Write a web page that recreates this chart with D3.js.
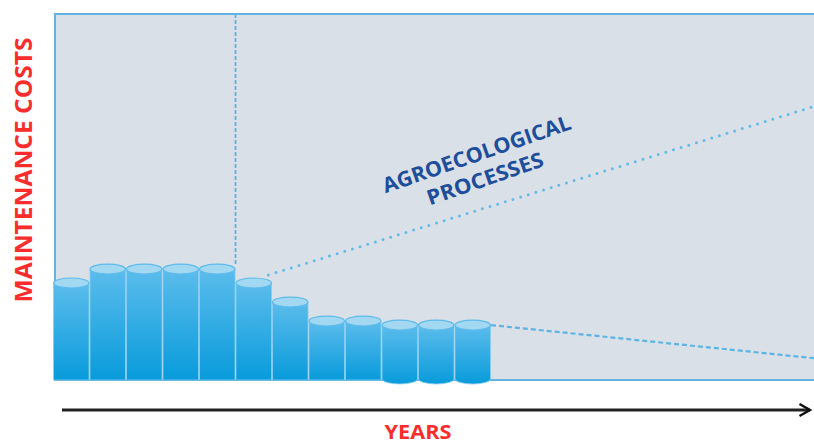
<!DOCTYPE html>
<html>
<head>
<meta charset="utf-8">
<script src="https://cdn.jsdelivr.net/npm/d3@7"></script>
<style>
  body { margin: 0; background: #fff; }
  svg { display: block; }
  text { font-family: "Open Sans", "DejaVu Sans", sans-serif; font-weight: 700; }
</style>
</head>
<body>
<div id="chart"></div>
<script>
/* Data */
let years = [1, 2, 3, 4, 5, 6, 7, 8, 9, 10, 11, 12];
let costs = [26.5, 30.3, 30.3, 30.3, 30.3, 26.5, 21.3, 16.1, 16.1, 15, 15, 15];
let transitionYear = 5;
let agroTrend = [{ year: 5.9, cost: 28.7 }, { year: 21, cost: 75.2 }];
let convTrend = [{ year: 12, cost: 15 }, { year: 21, cost: 5.8 }];
let yLabel = "MAINTENANCE COSTS";
let xLabel = "YEARS";
let noteLines = ["AGROECOLOGICAL", "PROCESSES"];

let width = 814;
let height = 444;
let plot = { left: 55, top: 14, right: 830, bottom: 380 };

/* Scale */
let xScale = d3.scaleLinear().domain([0, 1]).range([53, 89.5]);
let yScale = d3.scaleLinear().domain([0, 100]).range([plot.bottom, plot.top]);

let svg = d3
  .select("#chart")
  .append("svg")
  .attr("width", width)
  .attr("height", height);

let defs = svg.append("defs");
let grad = defs
  .append("linearGradient")
  .attr("id", "cyl")
  .attr("x1", 0).attr("y1", 0).attr("x2", 0).attr("y2", 1);
grad.append("stop").attr("offset", "0%").attr("stop-color", "#5cbcec");
grad.append("stop").attr("offset", "100%").attr("stop-color", "#089bdb");

defs
  .append("marker")
  .attr("id", "arrow")
  .attr("viewBox", "0 0 10 10")
  .attr("refX", 8)
  .attr("refY", 5)
  .attr("markerWidth", 5)
  .attr("markerHeight", 5)
  .attr("markerUnits", "strokeWidth")
  .attr("orient", "auto")
  .append("path")
  .attr("d", "M1,1 L8,5 L1,9")
  .attr("fill", "none")
  .attr("stroke", "#111")
  .attr("stroke-width", 1.6);

/* Panel */
svg
  .append("rect")
  .attr("x", plot.left)
  .attr("y", plot.top)
  .attr("width", plot.right - plot.left)
  .attr("height", plot.bottom - plot.top)
  .attr("fill", "#d9e0e7")
  .attr("stroke", "#62b3e2")
  .attr("stroke-width", 2);

/* Transition marker */
svg
  .append("line")
  .attr("x1", xScale(transitionYear))
  .attr("x2", xScale(transitionYear))
  .attr("y1", plot.top)
  .attr("y2", yScale(costs[transitionYear - 1]) - 4)
  .attr("stroke", "#5db4e4")
  .attr("stroke-width", 1.8)
  .attr("stroke-dasharray", "4,2");

/* Trend lines */
let line = d3
  .line()
  .x(d => xScale(d.year))
  .y(d => yScale(d.cost));

svg
  .append("path")
  .attr("d", line(agroTrend))
  .attr("fill", "none")
  .attr("stroke", "#66bae8")
  .attr("stroke-width", 3)
  .attr("stroke-linecap", "round")
  .attr("stroke-dasharray", "0,8");

svg
  .append("path")
  .attr("d", line(convTrend))
  .attr("fill", "none")
  .attr("stroke", "#5db4e4")
  .attr("stroke-width", 2.2)
  .attr("stroke-dasharray", "5,3");

/* Cylinders */
let ry = 5;
let cyl = svg
  .append("g")
  .selectAll("g")
  .data(years.map((y, i) => ({ year: y, cost: costs[i] })))
  .enter()
  .append("g");

cyl.each(function(d, i) {
  let g = d3.select(this);
  let x0 = xScale(d.year - 1) + 0.5;
  let x1 = xScale(d.year) - 0.5;
  let cx = (x0 + x1) / 2;
  let rx = (x1 - x0) / 2;
  let top = yScale(d.cost);
  let sunk = i >= 9;
  let bottom = sunk ? plot.bottom - 1 : plot.bottom;
  let p = `M${x0},${top} L${x0},${bottom} `;
  if (sunk) p += `A${rx},${ry} 0 0 0 ${x1},${bottom} `;
  else p += `L${x1},${bottom} `;
  p += `L${x1},${top} Z`;
  g.append("path")
    .attr("d", p)
    .attr("fill", "url(#cyl)")
    .attr("stroke", "#86cdf1")
    .attr("stroke-width", 0.8);
  g.append("ellipse")
    .attr("cx", cx)
    .attr("cy", top)
    .attr("rx", rx)
    .attr("ry", ry)
    .attr("fill", "#a3d8f3")
    .attr("stroke", "#5fbbea")
    .attr("stroke-width", 1.2);
});

/* Note */
let note = svg
  .append("g")
  .attr("transform", "translate(479,161) rotate(-19)")
  .attr("fill", "#1d4d9b");
note.append("text")
  .attr("text-anchor", "middle")
  .attr("x", 0)
  .attr("y", 0)
  .attr("font-size", 21)
  .attr("textLength", 198)
  .attr("lengthAdjust", "spacingAndGlyphs")
  .text(noteLines[0]);
note.append("text")
  .attr("text-anchor", "middle")
  .attr("x", 0)
  .attr("y", 26)
  .attr("font-size", 21)
  .attr("textLength", 122)
  .attr("lengthAdjust", "spacingAndGlyphs")
  .text(noteLines[1]);

/* Axis labels */
svg
  .append("line")
  .attr("x1", 62)
  .attr("x2", 810)
  .attr("y1", 410)
  .attr("y2", 410)
  .attr("stroke", "#222")
  .attr("stroke-width", 3)
  .attr("marker-end", "url(#arrow)");

svg
  .append("text")
  .attr("x", 418)
  .attr("y", 439)
  .attr("text-anchor", "middle")
  .attr("fill", "#fb2c2c")
  .attr("font-size", 19)
  .attr("textLength", 67)
  .attr("lengthAdjust", "spacingAndGlyphs")
  .text(xLabel);

svg
  .append("text")
  .attr("transform", "translate(32,170) rotate(-90)")
  .attr("text-anchor", "middle")
  .attr("fill", "#fb2c2c")
  .attr("font-size", 23)
  .attr("textLength", 265)
  .attr("lengthAdjust", "spacingAndGlyphs")
  .text(yLabel);
</script>
</body>
</html>
